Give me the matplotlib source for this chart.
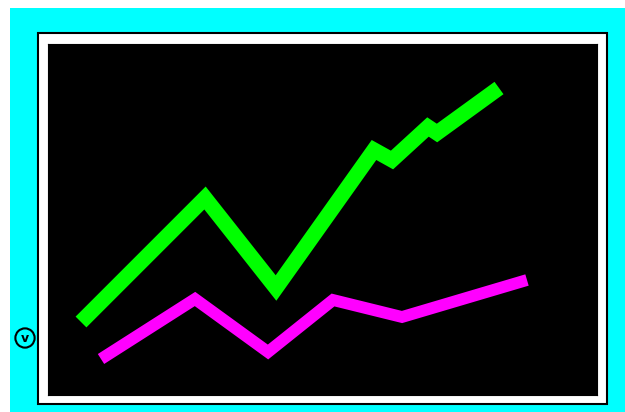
import matplotlib
matplotlib.use('Agg')
import matplotlib.pyplot as plt
from matplotlib.patches import Rectangle

# series values (x position, value)
green_x = [33, 157, 228, 326, 344, 380, 389, 451]
green_y = [73, 197, 107, 245, 235, 268, 262, 307]
magenta_x = [53, 147, 220, 285, 354, 479]
magenta_y = [36, 96, 43, 95, 78, 115]

W, H = 625, 412
fig = plt.figure(figsize=(W / 100, H / 100), dpi=100)
fig.patch.set_facecolor('white')

def fx(px):
    return px / W

def fy(py):
    return 1 - py / H

# cyan backdrop
fig.patches.append(Rectangle((fx(10), 0), 1 - fx(10), fy(8), transform=fig.transFigure,
                             facecolor='#00ffff', edgecolor='none', zorder=0))
# white frame with black outline
fig.patches.append(Rectangle((fx(38), fy(404)), fx(607) - fx(38), fy(33) - fy(404),
                             transform=fig.transFigure, facecolor='white',
                             edgecolor='black', linewidth=1.5, zorder=1))

ax = fig.add_axes([fx(48), fy(395), fx(597) - fx(48), fy(44) - fy(395)])
ax.set_zorder(2)
ax.set_facecolor('black')
ax.set_xlim(0, 549)
ax.set_ylim(0, 351)
ax.set_xticks([])
ax.set_yticks([])
for s in ax.spines.values():
    s.set_color('black')

ax.plot(green_x, green_y, color='#00ff00', linewidth=11,
        solid_joinstyle='miter', solid_capstyle='butt')
ax.plot(magenta_x, magenta_y, color='#ff00ff', linewidth=8.5,
        solid_joinstyle='miter', solid_capstyle='butt')

# small circled mark at the left
fig.text(fx(25), fy(338), 'v', ha='center', va='center', fontsize=9, fontweight='bold',
         zorder=3,
         bbox=dict(boxstyle='circle,pad=0.25', facecolor='none', edgecolor='black', linewidth=1.5))

fig.savefig('out.png', dpi=100)
